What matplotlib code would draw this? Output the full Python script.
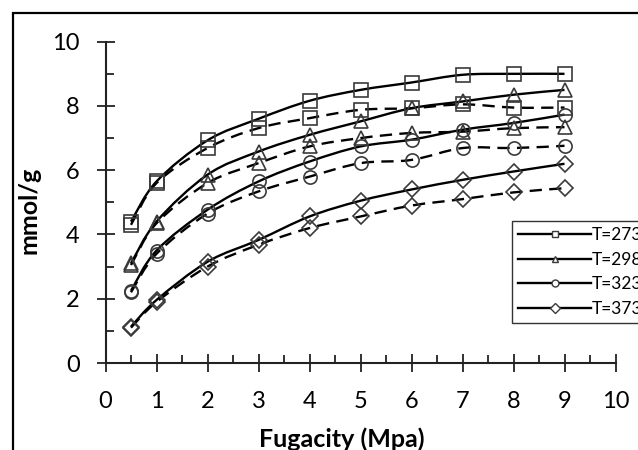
import matplotlib
matplotlib.use("Agg")
import matplotlib.pyplot as plt
from matplotlib.path import Path
from matplotlib.patches import PathPatch, Rectangle
from matplotlib.lines import Line2D
from matplotlib.ticker import MultipleLocator

plt.rcParams['font.family'] = ['Lato', 'DejaVu Sans']

fugacity = [0.5, 1, 2, 3, 4, 5, 6, 7, 8, 9]
labels = ["T=273", "T=298", "T=323", "T=373"]
markers = ["s", "^", "o", "D"]

t273_solid = [4.4, 5.65, 6.93, 7.6, 8.16, 8.5, 8.73, 8.97, 9.0, 9.0]
t273_dash = [4.3, 5.6, 6.69, 7.31, 7.62, 7.88, 7.93, 8.05, 7.95, 7.95]
t298_solid = [3.1, 4.4, 5.86, 6.58, 7.1, 7.52, 7.93, 8.14, 8.35, 8.5]
t298_dash = [3.05, 4.35, 5.6, 6.22, 6.74, 7.0, 7.16, 7.2, 7.31, 7.34]
t323_solid = [2.25, 3.5, 4.77, 5.65, 6.27, 6.74, 6.95, 7.26, 7.47, 7.73]
t323_dash = [2.2, 3.4, 4.65, 5.34, 5.8, 6.22, 6.32, 6.69, 6.69, 6.76]
t373_solid = [1.13, 1.96, 3.15, 3.83, 4.56, 5.05, 5.4, 5.7, 5.96, 6.2]
t373_dash = [1.1, 1.9, 3.0, 3.68, 4.2, 4.56, 4.9, 5.1, 5.31, 5.44]

solid_series = [t273_solid, t298_solid, t323_solid, t373_solid]
dash_series = [t273_dash, t298_dash, t323_dash, t373_dash]


def smooth_path(xs, ys):
    pts = list(zip(xs, ys))
    n = len(pts)
    verts = [pts[0]]
    codes = [Path.MOVETO]
    for i in range(n - 1):
        p0 = pts[i - 1] if i > 0 else pts[i]
        p1 = pts[i]
        p2 = pts[i + 1]
        p3 = pts[i + 2] if i + 2 < n else pts[i + 1]
        c1 = (p1[0] + (p2[0] - p0[0]) / 6, p1[1] + (p2[1] - p0[1]) / 6)
        c2 = (p2[0] - (p3[0] - p1[0]) / 6, p2[1] - (p3[1] - p1[1]) / 6)
        verts += [c1, c2, p2]
        codes += [Path.CURVE4] * 3
    return Path(verts, codes)


fig = plt.figure(figsize=(6.38, 4.5), dpi=100)
ax = fig.add_axes([105.5 / 638, 87 / 450, 510 / 638, 321.3 / 450])

mcol = "#3a3a3a"
for ys, ys2, m in zip(solid_series, dash_series, markers):
    ax.add_patch(PathPatch(smooth_path(fugacity, ys), fill=False,
                           edgecolor="black", lw=1.7, zorder=3))
    ax.add_patch(PathPatch(smooth_path(fugacity, ys2), fill=False,
                           edgecolor="black", lw=1.7, linestyle=(0, (5.2, 3.1)),
                           zorder=3))
    ms = 9.5 if m != "D" else 8.5
    ax.plot(fugacity, ys, linestyle="none", marker=m, ms=ms, mfc="none",
            mec=mcol, mew=1.2, zorder=4)
    ax.plot(fugacity, ys2, linestyle="none", marker=m, ms=ms, mfc="none",
            mec=mcol, mew=1.2, zorder=4)

ax.set_xlim(0, 10)
ax.set_ylim(0, 10)
for s in ["top", "right"]:
    ax.spines[s].set_visible(False)
for s in ["left", "bottom"]:
    ax.spines[s].set_linewidth(1.5)
    ax.spines[s].set_color("#222222")
ax.xaxis.set_major_locator(MultipleLocator(1))
ax.xaxis.set_minor_locator(MultipleLocator(0.5))
ax.yaxis.set_major_locator(MultipleLocator(2))
ax.yaxis.set_minor_locator(MultipleLocator(1))
ax.tick_params(which="major", direction="inout", length=13, width=1.3,
               labelsize=17, color="#222222")
ax.tick_params(which="minor", direction="in", length=5.5, width=1.3,
               color="#222222")
ax.tick_params(axis="x", which="major", pad=14)
ax.tick_params(axis="y", which="major", pad=12)

ax.set_xlabel("Fugacity (Mpa)", fontsize=18, fontweight="bold")
ax.set_ylabel("mmol/g", fontsize=18, fontweight="bold")
ax.xaxis.set_label_coords(0.464, -0.2)
ax.yaxis.set_label_coords(-0.127, 0.476)

handles = [Line2D([], [], color="black", lw=1.7, marker=m, ms=5, mfc="white",
                  mec=mcol, mew=1.0) for m in markers]
leg = fig.legend(handles, labels, loc="upper left",
                 bbox_to_anchor=(512 / 638, 1 - 221 / 450),
                 fontsize=12.5, handlelength=4.2, handletextpad=0.05,
                 labelspacing=0.5, borderpad=0.35, borderaxespad=0,
                 frameon=True, fancybox=False)
leg.get_frame().set_edgecolor("black")
leg.get_frame().set_linewidth(1.0)

fig.patches.append(Rectangle((13 / 638, -0.2), 1.5, 1 - 13 / 450 + 0.2,
                             transform=fig.transFigure, fill=False,
                             edgecolor="black", lw=1.6, zorder=0))

fig.savefig("out.png", dpi=100)
